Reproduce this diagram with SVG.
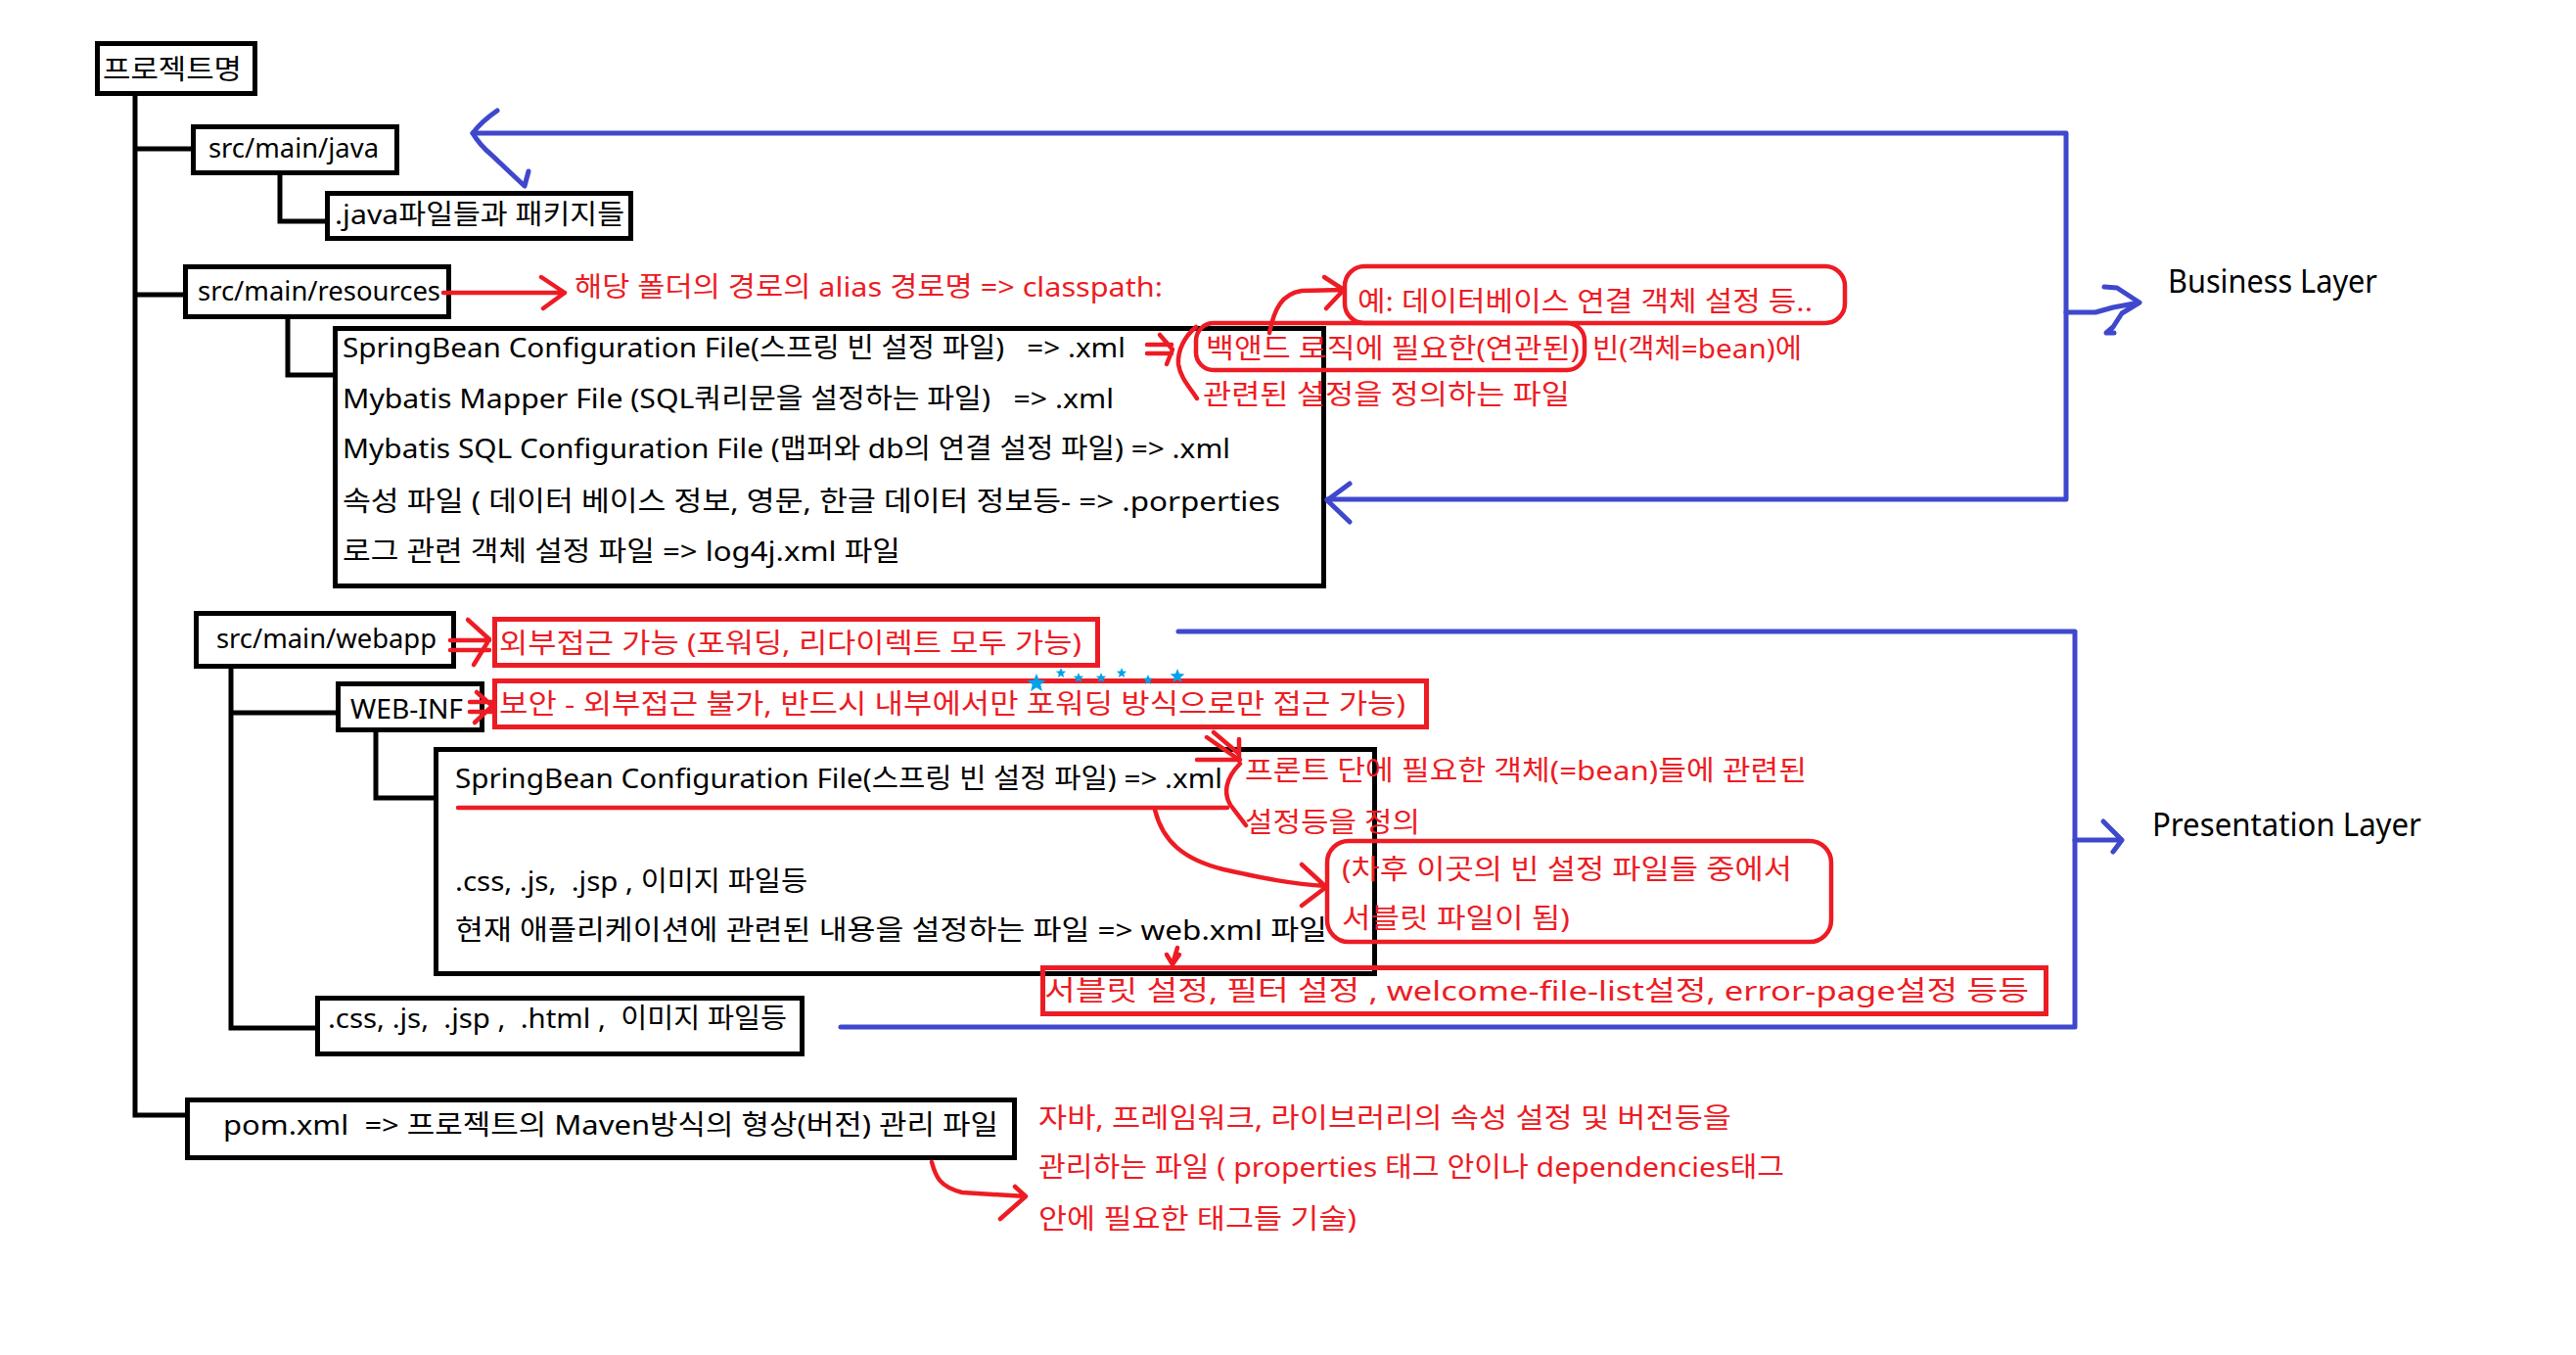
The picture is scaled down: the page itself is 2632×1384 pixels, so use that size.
<svg xmlns="http://www.w3.org/2000/svg" width="2632" height="1384" viewBox="0 0 2632 1384">
<style>
text{font-family:"Noto Sans","Noto Sans CJK KR",sans-serif;font-size:28px;white-space:pre}
.t{fill:#000}
.r{fill:#ed1c24}
.lay{font-size:32px;fill:#000}
.box{fill:#fff;stroke:#000;stroke-width:5}
.ln{fill:none;stroke:#000;stroke-width:5}
.bl{fill:none;stroke:#3f48cc;stroke-width:5;stroke-linecap:round;stroke-linejoin:round}
.rd{fill:none;stroke:#ed1c24;stroke-width:4.5;stroke-linecap:round;stroke-linejoin:round}
.rb{fill:none;stroke:#ed1c24;stroke-width:5}
.star{fill:#00a2e8}
</style>
<rect width="2632" height="1384" fill="#fff"/>
<g id="connectors">
<path class="ln" d="M138 98 V1139 H189"/>
<path class="ln" d="M136 152 H195"/>
<path class="ln" d="M138 301 H187"/>
<path class="ln" d="M286 179 V226 H332"/>
<path class="ln" d="M294 326 V383 H340"/>
<path class="ln" d="M236 683 V1050 H322"/>
<path class="ln" d="M236 728 H343"/>
<path class="ln" d="M384 748 V815 H443"/>
</g>
<g id="n-project"><rect class="box" x="99.5" y="44.5" width="161" height="51"/><text class="t" x="105" y="81" textLength="142" lengthAdjust="spacingAndGlyphs">프로젝트명</text></g>
<g id="n-java"><rect class="box" x="197.5" y="129.5" width="208" height="47"/><text class="t" x="213" y="161" textLength="174" lengthAdjust="spacingAndGlyphs">src/main/java</text></g>
<g id="n-javafiles"><rect class="box" x="334.5" y="197.5" width="310" height="46"/><text class="t" x="342" y="229" textLength="296" lengthAdjust="spacingAndGlyphs">.java파일들과 패키지들</text></g>
<g id="n-resources"><rect class="box" x="189.5" y="272.5" width="269" height="51"/><text class="t" x="202" y="307" textLength="248" lengthAdjust="spacingAndGlyphs">src/main/resources</text></g>
<g id="n-resfiles"><rect class="box" x="342.5" y="335.5" width="1010" height="263"/>
<text class="t" x="350" y="365" textLength="800" lengthAdjust="spacingAndGlyphs">SpringBean Configuration File(스프링 빈 설정 파일)   =&gt; .xml</text>
<text class="t" x="350" y="417" textLength="788" lengthAdjust="spacingAndGlyphs">Mybatis Mapper File (SQL쿼리문을 설정하는 파일)   =&gt; .xml</text>
<text class="t" x="350" y="468" textLength="907" lengthAdjust="spacingAndGlyphs">Mybatis SQL Configuration File (맵퍼와 db의 연결 설정 파일) =&gt; .xml</text>
<text class="t" x="350" y="522" textLength="958" lengthAdjust="spacingAndGlyphs">속성 파일 ( 데이터 베이스 정보, 영문, 한글 데이터 정보등- =&gt; .porperties</text>
<text class="t" x="350" y="573" textLength="570" lengthAdjust="spacingAndGlyphs">로그 관련 객체 설정 파일 =&gt; log4j.xml 파일</text>
</g>
<g id="n-webapp"><rect class="box" x="200.5" y="626.5" width="263" height="54"/><text class="t" x="221" y="662" textLength="225" lengthAdjust="spacingAndGlyphs">src/main/webapp</text></g>
<g id="n-webinf"><rect class="box" x="345.5" y="698.5" width="147" height="47"/><text class="t" x="358" y="734" textLength="115" lengthAdjust="spacingAndGlyphs">WEB-INF</text></g>
<g id="n-webinffiles"><rect class="box" x="445.5" y="765.5" width="959" height="229"/>
<text class="t" x="465" y="805" textLength="784" lengthAdjust="spacingAndGlyphs">SpringBean Configuration File(스프링 빈 설정 파일) =&gt; .xml</text>
<text class="t" x="465" y="910" textLength="360" lengthAdjust="spacingAndGlyphs">.css, .js,  .jsp , 이미지 파일등</text>
<text class="t" x="465" y="960" textLength="891" lengthAdjust="spacingAndGlyphs">현재 애플리케이션에 관련된 내용을 설정하는 파일 =&gt; web.xml 파일</text>
</g>
<g id="n-static"><rect class="box" x="324.5" y="1019.5" width="495" height="57"/><text class="t" x="335" y="1050" textLength="469" lengthAdjust="spacingAndGlyphs">.css, .js,  .jsp ,  .html ,  이미지 파일등</text></g>
<g id="n-pom"><rect class="box" x="191.5" y="1123.5" width="845" height="59"/><text class="t" x="228" y="1159" textLength="792" lengthAdjust="spacingAndGlyphs">pom.xml  =&gt; 프로젝트의 Maven방식의 형상(버전) 관리 파일</text></g>
<g id="business-layer">
<path class="bl" d="M483 136 H2111 V510 H1356"/>
<path class="bl" d="M508 113 Q492 124 483 136 Q490 148 502 158 L520 175 L536 190 L540 175"/>
<path class="bl" d="M1379 494 L1356 511 L1379 533"/>
<path class="bl" d="M2111 319 H2141 L2159 314 L2186 309 M2150 293 L2163 294 L2186 309 L2168 320 L2159 334 L2152 340 L2160 340"/>
<text class="lay" x="2215" y="299" textLength="214" lengthAdjust="spacingAndGlyphs">Business Layer</text>
</g>
<g id="presentation-layer">
<path class="bl" d="M1204 645 H2120 V1049 H859"/>
<path class="bl" d="M2120 858 H2168 M2149 839 L2168 858 L2159 870"/>
<text class="lay" x="2199" y="854" textLength="275" lengthAdjust="spacingAndGlyphs">Presentation Layer</text>
</g>
<g id="note-classpath">
<path class="rd" d="M453 299 H577 M553 283 L577 299 L555 315"/>
<text class="r" x="587" y="303" textLength="601" lengthAdjust="spacingAndGlyphs">해당 폴더의 경로의 alias 경로명 =&gt; classpath:</text>
</g>
<g id="note-backend">
<path class="rd" d="M1172 352 H1197 M1172 361 H1197 M1185 342 L1198 357 L1192 372"/>
<path class="rd" d="M1222 334 C1210 344 1203 358 1204 372 C1206 386 1216 396 1223 407"/>
<rect class="rd" x="1222" y="330" width="397" height="48" rx="18"/>
<rect class="rd" x="1374" y="272" width="511" height="58" rx="20"/>
<path class="rd" d="M1297 340 C1302 315 1310 300 1330 297 L1373 296 M1353 283 L1373 296 L1355 315"/>
<text class="r" x="1387" y="318" textLength="465" lengthAdjust="spacingAndGlyphs">예: 데이터베이스 연결 객체 설정 등..</text>
<text class="r" x="1232" y="366" textLength="382" lengthAdjust="spacingAndGlyphs">백앤드 로직에 필요한(연관된)</text>
<text class="r" x="1627" y="366" textLength="214" lengthAdjust="spacingAndGlyphs">빈(객체=bean)에</text>
<text class="r" x="1229" y="413" textLength="375" lengthAdjust="spacingAndGlyphs">관련된 설정을 정의하는 파일</text>
</g>
<g id="note-webapp">
<path class="rd" d="M460 654 H500 M460 664 H500 M478 633 L500 653 L484 679"/>
<rect class="rb" x="505.5" y="632.5" width="616" height="47"/>
<text class="r" x="510" y="667" textLength="595" lengthAdjust="spacingAndGlyphs">외부접근 가능 (포워딩, 리다이렉트 모두 가능)</text>
</g>
<g id="note-webinf">
<path class="rd" d="M480 717 H503 M480 727 H503 M487 707 L503 721 L485 738"/>
<rect class="rb" x="505.5" y="695.5" width="952" height="47"/>
<text class="r" x="510" y="729" textLength="926" lengthAdjust="spacingAndGlyphs">보안 - 외부접근 불가, 반드시 내부에서만 포워딩 방식으로만 접근 가능)</text>
<g class="star">
<polygon points="1059,688 1061.6,694.4 1068.5,694.9 1063.2,699.3 1064.9,706 1059,702.3 1053.1,706 1054.8,699.3 1049.5,694.9 1056.4,694.4"/>
<polygon points="1084,682 1085.4,685.6 1089.2,685.8 1086.2,688.3 1087.2,692 1084,689.9 1080.8,692 1081.8,688.3 1078.8,685.8 1082.6,685.6"/>
<polygon points="1102,687 1103.4,690.6 1107.2,690.8 1104.2,693.3 1105.2,697 1102,694.9 1098.8,697 1099.8,693.3 1096.8,690.8 1100.6,690.6"/>
<polygon points="1125,687 1126.4,690.6 1130.2,690.8 1127.2,693.3 1128.2,697 1125,694.9 1121.8,697 1122.8,693.3 1119.8,690.8 1123.6,690.6"/>
<polygon points="1146,682 1147.4,685.6 1151.2,685.8 1148.2,688.3 1149.2,692 1146,689.9 1142.8,692 1143.8,688.3 1140.8,685.8 1144.6,685.6"/>
<polygon points="1173,689 1174.4,692.6 1178.2,692.8 1175.2,695.3 1176.2,699 1173,696.9 1169.8,699 1170.8,695.3 1167.8,692.8 1171.6,692.6"/>
<polygon points="1203,683 1205,688 1210.4,688.4 1206.3,691.8 1207.6,697 1203,694.2 1198.4,697 1199.7,691.8 1195.6,688.4 1201,688"/>
</g>
</g>
<g id="note-front">
<path class="rd" d="M1233 753 L1266 776 M1240 748 L1266 770 M1223 776 H1267 M1266 755 V777"/>
<path class="rd" d="M1267 780 C1252 795 1250 810 1257 822 L1273 843"/>
<path class="rd" d="M468 825 H1254"/>
<text class="r" x="1272" y="797" textLength="574" lengthAdjust="spacingAndGlyphs">프론트 단에 필요한 객체(=bean)들에 관련된</text>
<text class="r" x="1272" y="850" textLength="179" lengthAdjust="spacingAndGlyphs">설정등을 정의</text>
</g>
<g id="note-servlet">
<path class="rd" d="M1180 827 C1188 860 1210 878 1250 888 C1290 897 1320 903 1355 905 M1330 883 L1355 906 L1330 925"/>
<rect class="rd" x="1356" y="859" width="515" height="103" rx="22"/>
<text class="r" x="1371" y="898" textLength="460" lengthAdjust="spacingAndGlyphs">(차후 이곳의 빈 설정 파일들 중에서</text>
<text class="r" x="1371" y="948" textLength="233" lengthAdjust="spacingAndGlyphs">서블릿 파일이 됨)</text>
</g>
<g id="note-webxml">
<path class="rd" d="M1203 968 L1198 985 M1192 975 L1198 985 L1205 975"/>
<rect class="rb" x="1065.5" y="988.5" width="1025" height="47"/>
<text class="r" x="1067" y="1022" textLength="1006" lengthAdjust="spacingAndGlyphs">서블릿 설정, 필터 설정 , welcome-file-list설정, error-page설정 등등</text>
</g>
<g id="note-pom">
<path class="rd" d="M952 1187 C956 1202 960 1212 983 1218 L1048 1222 M1037 1212 L1048 1222 L1022 1245"/>
<text class="r" x="1061" y="1152" textLength="708" lengthAdjust="spacingAndGlyphs">자바, 프레임워크, 라이브러리의 속성 설정 및 버전등을</text>
<text class="r" x="1061" y="1202" textLength="762" lengthAdjust="spacingAndGlyphs">관리하는 파일 ( properties 태그 안이나 dependencies태그</text>
<text class="r" x="1061" y="1255" textLength="325" lengthAdjust="spacingAndGlyphs">안에 필요한 태그들 기술)</text>
</g>
</svg>
